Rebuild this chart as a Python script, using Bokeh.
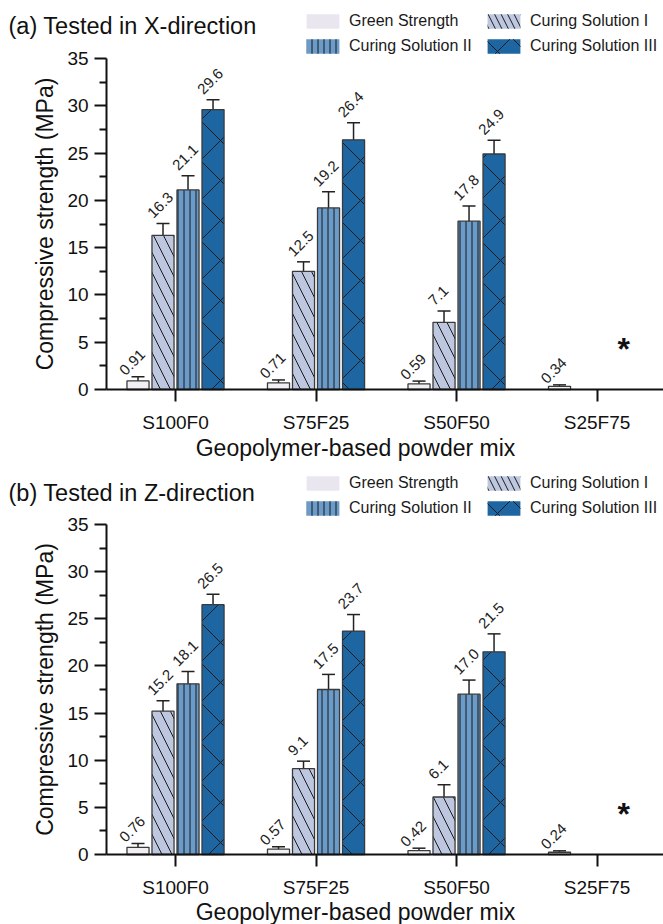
from bokeh.plotting import figure
from bokeh.models import (ColumnDataSource, Range1d, FixedTicker, Legend, LegendItem,
                          Whisker, TeeHead, Label)
from bokeh.layouts import column
from bokeh.core.properties import value
from bokeh.embed import file_html
from bokeh.resources import INLINE

# ---------------- data ----------------
mixes = ["S100F0", "S75F25", "S50F50", "S25F75"]
series = ["Green Strength", "Curing Solution I", "Curing Solution II", "Curing Solution III"]
y_ticks = [0, 5, 10, 15, 20, 25, 30, 35]
x_title = "Geopolymer-based powder mix"
y_title = "Compressive strength (MPa)"

# (a) Tested in X-direction
x_green = [0.91, 0.71, 0.59, 0.34]
x_green_err = [0.45, 0.30, 0.30, 0.15]
x_cs1 = [16.3, 12.5, 7.1, None]
x_cs1_err = [1.25, 1.0, 1.2, None]
x_cs2 = [21.1, 19.2, 17.8, None]
x_cs2_err = [1.5, 1.7, 1.6, None]
x_cs3 = [29.6, 26.4, 24.9, None]
x_cs3_err = [1.05, 1.8, 1.45, None]

# (b) Tested in Z-direction
z_green = [0.76, 0.57, 0.42, 0.24]
z_green_err = [0.40, 0.25, 0.25, 0.15]
z_cs1 = [15.2, 9.1, 6.1, None]
z_cs1_err = [1.1, 0.8, 1.3, None]
z_cs2 = [18.1, 17.5, 17.0, None]
z_cs2_err = [1.3, 1.6, 1.5, None]
z_cs3 = [26.5, 23.7, 21.5, None]
z_cs3_err = [1.1, 1.75, 1.9, None]

missing_mix = "S25F75"
missing_mark = "*"
missing_level = 5.0

# ---------------- style ----------------
FONT = "Liberation Sans"
fills = ["#F1EFF4", "#BDC7DF", "#6B9BC9", "#1E66A1"]
legend_fills = ["#EAE6EF", "#BDC7DF", "#6B9BC9", "#1E66A1"]
hatches = [" ", "left_diagonal_line", "vertical_line", "diagonal_cross"]
hatch_scales = [12, 20, 6, 40]
legend_hatch_scales = [12, 13, 6, 28]
offsets = [-0.267, -0.089, 0.089, 0.267]
label_dx = [-16, -13, -13, -13]
label_dy = [-4, -8, -8, -8]
BAR_W = 0.157
W, H = 663, 462
X0, X1 = -1.2456, 3.473      # frame spans the full width
AXIS_X = -0.491              # where the y axis sits


def make_panel(title, vals, errs, zero_px, top35_px, title_c, xt_c, legend_top):
    ppu = (zero_px - top35_px) / 35.0
    y0 = -(H - zero_px) / ppu
    y1 = 35.0 + top35_px / ppu
    p = figure(width=W, height=H, output_backend="svg", toolbar_location=None,
               x_range=Range1d(X0, X1), y_range=Range1d(y0, y1),
               min_border_left=0, min_border_right=0, min_border_top=0,
               min_border_bottom=0)
    p.outline_line_color = None
    p.grid.visible = False
    p.background_fill_color = "white"

    items = []
    for k in range(4):
        v, e = vals[k], errs[k]
        idx = [i for i in range(len(mixes)) if v[i] is not None]
        fmt = "{:.2f}" if k == 0 else "{:.1f}"
        src = ColumnDataSource(dict(
            pos=[i + offsets[k] for i in idx],
            top=[v[i] for i in idx],
            hi=[v[i] + e[i] for i in idx],
            lo=[v[i] - e[i] for i in idx],
            label=[fmt.format(v[i]) for i in idx],
        ))
        p.vbar(x="pos", top="top", bottom=0, width=BAR_W, source=src,
               fill_color=fills[k], line_color="#3a3a3a", line_width=1.3,
               hatch_pattern=hatches[k], hatch_scale=hatch_scales[k],
               hatch_color="#1a1a1a", hatch_weight=1.0)
        # hidden twin used only for the borderless legend swatch
        lr = p.vbar(x="pos", top="top", bottom=0, width=BAR_W, source=src,
                    fill_color=legend_fills[k], line_color=None,
                    hatch_pattern=hatches[k], hatch_scale=legend_hatch_scales[k],
                    hatch_color="#1a1a1a", hatch_weight=1.0, visible=False)
        items.append(LegendItem(label=series[k], renderers=[lr]))
        w = Whisker(base="pos", upper="hi", lower="lo", source=src,
                    line_color="#222222", line_width=1.5,
                    upper_head=TeeHead(size=13, line_color="#222222", line_width=1.5),
                    lower_head=TeeHead(size=13, line_color="#222222", line_width=1.5))
        p.add_layout(w)
        p.text(x="pos", y="hi", text="label", source=src, angle=45, angle_units="deg",
               text_align="left", text_baseline="middle",
               x_offset=label_dx[k], y_offset=label_dy[k],
               text_font=value(FONT), text_font_size="15px", text_color="#222222")

    p.text(x=[mixes.index(missing_mix) + 0.19], y=[missing_level], text=[missing_mark],
           text_align="center", text_baseline="middle", y_offset=7, text_font=value(FONT),
           text_font_size="32px", text_font_style="bold", text_color="#111111")

    legend = Legend(items=items, location=(302, H - legend_top - 43),
                    orientation="horizontal", ncols=2, click_policy="none",
                    inactive_fill_alpha=0,
                    glyph_width=41, glyph_height=18, label_standoff=6, spacing=7,
                    padding=0, margin=0, label_width=127, label_height=18,
                    border_line_color=None, background_fill_alpha=0,
                    label_text_font=FONT, label_text_font_size="16px",
                    label_text_color="#1a1a1a")
    p.add_layout(legend)

    p.add_layout(Label(x=8, y=H - title_c, x_units="screen", y_units="screen",
                       text=title, text_font=FONT, text_font_size="23.5px",
                       text_color="#111111", text_baseline="middle", text_align="left"))
    p.add_layout(Label(x=355, y=H - xt_c, x_units="screen", y_units="screen",
                       text=x_title, text_font=FONT, text_font_size="23px",
                       text_color="#111111", text_baseline="middle", text_align="center"))
    p.add_layout(Label(x=44, y=H - (zero_px + top35_px) / 2, x_units="screen",
                       y_units="screen", angle=90, angle_units="deg",
                       text=y_title, text_font=FONT, text_font_size="23px",
                       text_color="#111111", text_baseline="middle", text_align="center"))

    xa = p.xaxis[0]
    xa.ticker = FixedTicker(ticks=list(range(len(mixes))))
    xa.major_label_overrides = {i: m for i, m in enumerate(mixes)}
    xa.bounds = (AXIS_X, X1)
    xa.fixed_location = 0
    ya = p.yaxis[0]
    minor = [(a + b) / 2 for a, b in zip(y_ticks[:-1], y_ticks[1:])]
    ya.ticker = FixedTicker(ticks=y_ticks, minor_ticks=minor)
    ya.bounds = (0, 35)
    ya.fixed_location = AXIS_X
    for ax in (xa, ya):
        ax.axis_line_width = 2
        ax.axis_line_color = "#111111"
        ax.major_tick_line_width = 2
        ax.major_tick_line_color = "#111111"
        ax.minor_tick_line_width = 2
        ax.minor_tick_line_color = "#111111"
        ax.major_tick_in = 0
        ax.major_tick_out = 12
        ax.minor_tick_in = 0
        ax.minor_tick_out = 7
        ax.major_label_text_font = FONT
        ax.major_label_text_font_size = "19px"
        ax.major_label_text_color = "#111111"
    xa.minor_tick_out = 0
    xa.major_label_standoff = 10
    ya.major_label_standoff = 6
    return p


pa = make_panel("(a) Tested in X-direction",
                [x_green, x_cs1, x_cs2, x_cs3], [x_green_err, x_cs1_err, x_cs2_err, x_cs3_err],
                zero_px=389, top35_px=58, title_c=25, xt_c=447, legend_top=12)
pb = make_panel("(b) Tested in Z-direction",
                [z_green, z_cs1, z_cs2, z_cs3], [z_green_err, z_cs1_err, z_cs2_err, z_cs3_err],
                zero_px=392, top35_px=62, title_c=30, xt_c=449, legend_top=12)

layout = column(pa, pb, spacing=0)
open("out.html", "w").write(file_html(layout, INLINE))
